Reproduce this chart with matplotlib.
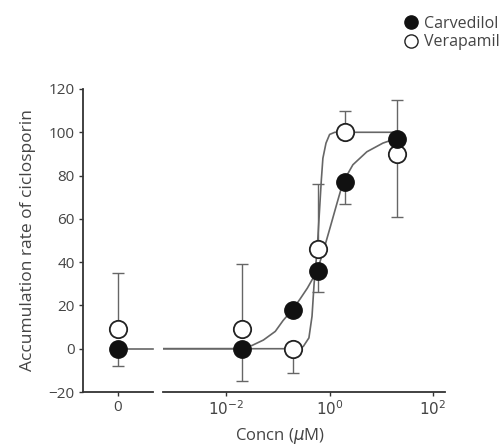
import matplotlib
matplotlib.use("Agg")
import matplotlib.pyplot as plt
from matplotlib.lines import Line2D

plt.rcParams['font.family'] = ['Open Sans', 'DejaVu Sans']
plt.rcParams['axes.unicode_minus'] = True

# ---- data ----
conc = [0.02, 0.2, 0.6, 2.0, 20.0]           # µM, log panel
carv_zero = 0.0
vera_zero = 9.0
carv_vals = [0.0, 18.0, 36.0, 77.0, 97.0]
vera_vals = [9.0, 0.0, 46.0, 100.0, 90.0]
# one-sided error bars as drawn (lower, upper)
carv_zero_err = (8.0, 0.0)
vera_zero_err = (0.0, 26.0)
carv_err_lo = [15.0, 0.0, 10.0, 10.0, 0.0]
carv_err_hi = [0.0, 0.0, 0.0, 0.0, 18.0]
vera_err_lo = [0.0, 11.0, 0.0, 0.0, 29.0]
vera_err_hi = [30.0, 0.0, 30.0, 10.0, 0.0]

# fitted curves (log10 concentration, value)
carv_curve_logx = [-3.22, -1.73, -1.50, -1.28, -1.05, -0.90, -0.72, -0.57, -0.43,
                   -0.24, -0.11, 0.01, 0.14, 0.26, 0.45, 0.72, 1.03, 1.27]
carv_curve_y = [0, 0, 1.5, 4, 8, 13, 18, 23, 28, 36, 46, 56, 67, 77, 85, 91, 95, 97]
vera_curve_logx = [-3.22, -0.72, -0.51, -0.40, -0.34, -0.30, -0.24, -0.20, -0.16,
                   -0.13, -0.07, 0.0, 0.10, 1.27]
vera_curve_y = [0, 0, 1, 5, 15, 30, 46, 62, 78, 88, 95, 99, 100, 100]

yticks = [-20, 0, 20, 40, 60, 80, 100, 120]
xticks_log = [1e-2, 1e0, 1e2]
xticklabels_log = [r'$10^{-2}$', r'$10^{0}$', r'$10^{2}$']

text_col = '#444444'
line_col = '#666666'
spine_col = '#333333'
ms = 12.5

W, H = 503, 446
fig = plt.figure(figsize=(W / 100, H / 100), dpi=100)
axL = fig.add_axes([83 / W, 54 / H, 70 / W, 303 / H])
axR = fig.add_axes([163 / W, 54 / H, 282 / W, 303 / H], sharey=axL)

for ax in (axL, axR):
    ax.spines['top'].set_visible(False)
    ax.spines['right'].set_visible(False)
    for s in ax.spines.values():
        s.set_color(spine_col)
        s.set_linewidth(1.3)
    ax.tick_params(colors=spine_col, labelcolor=text_col, labelsize=11,
                   length=3, width=1, direction='out', pad=3)
    ax.patch.set_alpha(0)

axR.spines['left'].set_visible(False)
axR.tick_params(axis='y', left=False, labelleft=False)

axL.set_ylim(-20, 120)
axL.set_yticks(yticks)
axL.set_xlim(-1, 1)
axL.set_xticks([0])
axL.set_xticklabels(['0'])

axR.set_xscale('log')
axR.set_xlim(10 ** -3.22, 10 ** 2.23)
axR.set_xticks(xticks_log)
axR.set_xticklabels(xticklabels_log)
axR.minorticks_off()
axR.tick_params(axis='x', which='minor', bottom=False)

# left panel (zero concentration)
axL.plot([0, 1], [carv_zero, carv_zero], color=line_col, lw=1.2, zorder=1, clip_on=False)
axL.errorbar([0], [vera_zero], yerr=[[vera_zero_err[0]], [vera_zero_err[1]]],
             fmt='none', ecolor=line_col, elinewidth=1, capsize=4.5, zorder=2)
axL.errorbar([0], [carv_zero], yerr=[[carv_zero_err[0]], [carv_zero_err[1]]],
             fmt='none', ecolor=line_col, elinewidth=1, capsize=4.5, zorder=2)
axL.plot([0], [vera_zero], 'o', ms=ms, mfc='white', mec='#222222', mew=1.3, zorder=3)
axL.plot([0], [carv_zero], 'o', ms=ms, mfc='#111111', mec='#111111', zorder=4)

# right panel
axR.plot([10 ** v for v in carv_curve_logx], carv_curve_y, color=line_col, lw=1.2, zorder=1)
axR.plot([10 ** v for v in vera_curve_logx], vera_curve_y, color=line_col, lw=1.2, zorder=1)
axR.errorbar(conc, vera_vals, yerr=[vera_err_lo, vera_err_hi], fmt='none',
             ecolor=line_col, elinewidth=1, capsize=4.5, zorder=2)
axR.errorbar(conc, carv_vals, yerr=[carv_err_lo, carv_err_hi], fmt='none',
             ecolor=line_col, elinewidth=1, capsize=4.5, zorder=2)
axR.plot(conc, vera_vals, 'o', ms=ms, mfc='white', mec='#222222', mew=1.3, zorder=3)
axR.plot(conc, carv_vals, 'o', ms=ms, mfc='#111111', mec='#111111', zorder=4)

fig.text(28 / W, 1 - 240 / H, 'Accumulation rate of ciclosporin', rotation=90,
         ha='center', va='center', fontsize=12.5, color=text_col)
fig.text(280 / W, 1 - 436 / H, 'Concn ($\\mu$M)', ha='center', va='center',
         fontsize=12, color=text_col)

handles = [Line2D([], [], ls='none', marker='o', ms=9.5, mfc='#111111', mec='#111111'),
           Line2D([], [], ls='none', marker='o', ms=9.5, mfc='white', mec='#222222', mew=1)]
fig.legend(handles, ['Carvedilol', 'Verapamil'], loc='upper left',
           bbox_to_anchor=(403 / W, 1 - 16 / H), frameon=False, fontsize=11.5,
           handletextpad=0.3, labelspacing=0.15, labelcolor=text_col,
           handlelength=1.0, borderaxespad=0, borderpad=0)

fig.savefig('out.png', dpi=100)
